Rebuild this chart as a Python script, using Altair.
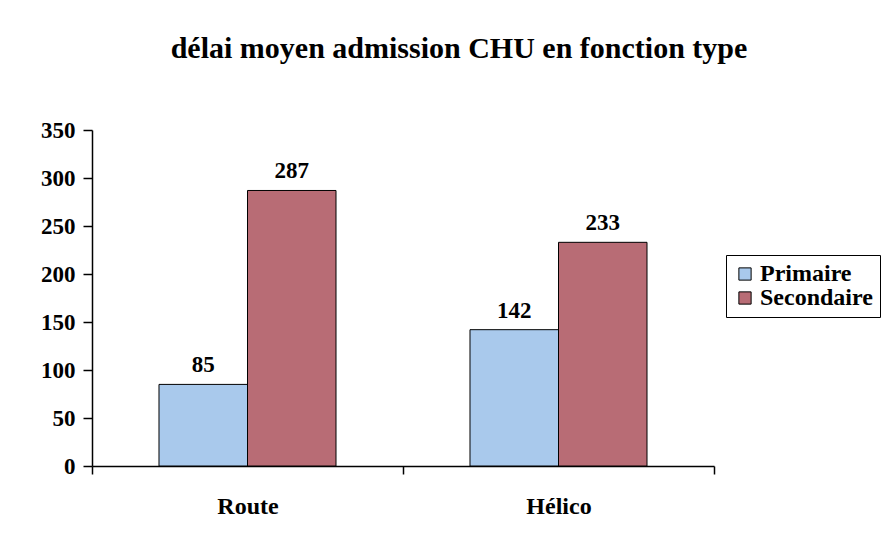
import altair as alt
import pandas as pd

categories = ["Route", "Hélico"]
series = ["Primaire", "Secondaire"]
primaire = [85, 142]
secondaire = [287, 233]
y_ticks = [0, 50, 100, 150, 200, 250, 300, 350]
title_text = "délai moyen admission CHU en fonction type"

rows = []
for i, c in enumerate(categories):
    rows.append({"type": c, "serie": "Primaire", "val": primaire[i]})
    rows.append({"type": c, "serie": "Secondaire", "val": secondaire[i]})
df = pd.DataFrame(rows)

FONT = "Liberation Serif"

x_enc = alt.X("type:N", sort=categories, title=None,
              scale=alt.Scale(paddingInner=0, paddingOuter=0),
              axis=alt.Axis(labelAngle=0, tickBand="extent", tickSize=8,
                            labelPadding=20, domainColor="black", tickColor="black",
                            labelFont=FONT, labelFontSize=24, labelFontWeight="bold",
                            labelColor="black", domainWidth=1.5, tickWidth=1.5))
xo_enc = alt.XOffset("serie:N", sort=series,
                     scale=alt.Scale(paddingInner=0, paddingOuter=0.757))
y_enc = alt.Y("val:Q", title=None,
              scale=alt.Scale(domain=[0, 350], nice=False),
              axis=alt.Axis(values=y_ticks, grid=False, tickSize=9, labelPadding=8,
                            domainColor="black", tickColor="black",
                            labelFont=FONT, labelFontSize=23, labelFontWeight="bold",
                            labelColor="black", domainWidth=1.5, tickWidth=1.5))

bars = alt.Chart(df).mark_bar(stroke="black", strokeWidth=1).encode(
    x=x_enc, xOffset=xo_enc, y=y_enc,
    color=alt.Color("serie:N", sort=series, title=None,
                    scale=alt.Scale(domain=series, range=["#a9c9ec", "#b86c75"]),
                    legend=alt.Legend(orient="none", legendX=634, legendY=125,
                                      strokeColor="black", fillColor="white",
                                      padding=7, symbolType="square", symbolSize=150,
                                      symbolStrokeColor="black", symbolStrokeWidth=1,
                                      labelFont=FONT, labelFontSize=24,
                                      labelFontWeight="bold", labelColor="black",
                                      labelOffset=3, rowPadding=0)),
)

labels = alt.Chart(df).mark_text(font=FONT, fontSize=23, fontWeight="bold",
                                 color="black", baseline="alphabetic", dy=-12).encode(
    x=alt.X("type:N", sort=categories), xOffset=alt.XOffset("serie:N", sort=series),
    y="val:Q", text="val:Q")

chart = alt.layer(bars, labels).properties(
    width=622, height=336,
    title=alt.TitleParams(title_text, font=FONT, fontSize=30, fontWeight="bold",
                          color="black", anchor="middle", dx=56, offset=31,
                          baseline="alphabetic"),
    autosize=alt.AutoSizeParams(type="none"),
    padding={"left": 84, "top": 122, "right": 171, "bottom": 70},
).configure_view(strokeWidth=0)

chart.save("out.html", embed_options={"renderer": "svg", "actions": False})
